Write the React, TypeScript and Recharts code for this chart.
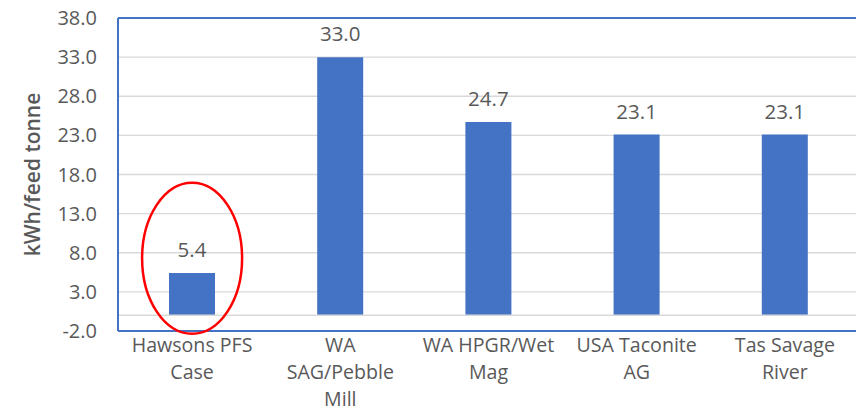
import React from 'react';
import { BarChart, Bar, XAxis, YAxis, CartesianGrid, ReferenceLine, ReferenceDot, LabelList } from 'recharts';

const categories = [
  'Hawsons PFS\nCase',
  'WA\nSAG/Pebble\nMill',
  'WA HPGR/Wet\nMag',
  'USA Taconite\nAG',
  'Tas Savage\nRiver',
];
const energyKwhPerTonne = [5.4, 33.0, 24.7, 23.1, 23.1];
const yTicks = [-2, 3, 8, 13, 18, 23, 28, 33, 38];
const yDomain = [-2, 38];
const highlightCategory = categories[0];
const highlightCentreValue = 7.3;
const yTitle = 'kWh/feed tonne';

const data = categories.map((name, i) => ({ name, value: energyKwhPerTonne[i] }));

const FONT = '"Open Sans", "Noto Sans", sans-serif';
const TEXT = '#595959';
const BLUE = '#4472C4';
const GRID = '#D9D9D9';

const CategoryTick = (props: any) => {
  const { x, y, payload } = props;
  const lines = String(payload.value).split('\n');
  return (
    <text x={x} y={y} textAnchor="middle" fill={TEXT} fontSize={19.6} fontFamily={FONT}>
      {lines.map((line, i) => (
        <tspan key={i} x={x} dy={i === 0 ? 20.5 : 27.2}>
          {line}
        </tspan>
      ))}
    </text>
  );
};

const Ellipse = (props: any) => {
  const { cx, cy } = props;
  return <ellipse cx={cx} cy={cy} rx={50} ry={75.5} fill="none" stroke="#FF0000" strokeWidth={2.5} />;
};

export default function App() {
  return (
    <div style={{ position: 'absolute', left: 0, top: 0, width: 856, height: 408, overflow: 'hidden', background: '#fff' }}>
      <BarChart
        width={870}
        height={408}
        data={data}
        margin={{ top: 18, right: 11, bottom: 0, left: 0 }}
        barSize={46}
      >
        <CartesianGrid vertical={false} stroke={GRID} strokeWidth={1.3} />
        <XAxis
          dataKey="name"
          height={77}
          tickLine={false}
          tickSize={0}
          tickMargin={0}
          axisLine={{ stroke: BLUE, strokeWidth: 2 }}
          tick={<CategoryTick />}
          interval={0}
        />
        <YAxis
          width={118}
          domain={yDomain}
          ticks={yTicks}
          type="number"
          allowDataOverflow
          tickLine={false}
          tickSize={0}
          tickMargin={21}
          axisLine={{ stroke: BLUE, strokeWidth: 2 }}
          tick={{ fill: TEXT, fontSize: 20, fontFamily: FONT }}
          tickFormatter={(v: number) => v.toFixed(1)}
          label={{
            value: yTitle,
            angle: -90,
            position: 'insideLeft',
            offset: 33,
            style: { textAnchor: 'middle', fill: TEXT, fontSize: 21, fontWeight: 600, fontFamily: FONT },
          }}
        />
        <ReferenceLine y={0} stroke={GRID} strokeWidth={1.5} />
        <ReferenceLine y={38} stroke={BLUE} strokeWidth={2} />
        <Bar dataKey="value" fill={BLUE} isAnimationActive={false}>
          <LabelList
            dataKey="value"
            position="top"
            offset={16}
            formatter={(v: any) => Number(v).toFixed(1)}
            style={{ fill: TEXT, fontSize: 20.5, fontFamily: FONT }}
          />
        </Bar>
        <ReferenceDot x={highlightCategory} y={highlightCentreValue} shape={<Ellipse />} />
      </BarChart>
    </div>
  );
}
